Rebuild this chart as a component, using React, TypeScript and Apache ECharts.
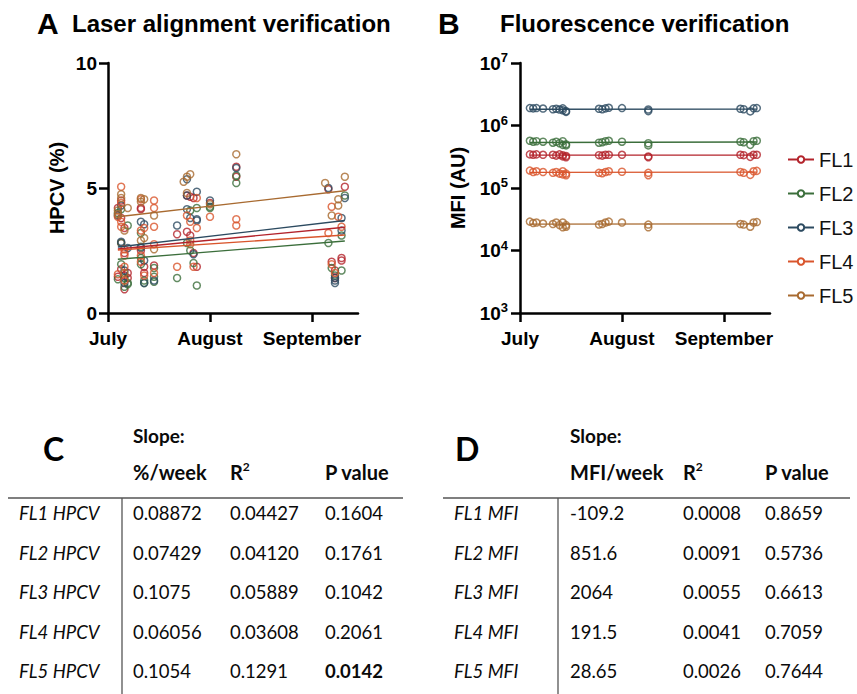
import React, { useEffect, useRef } from 'react';
import * as echarts from 'echarts';

const seriesNames = ['FL1', 'FL2', 'FL3', 'FL4', 'FL5'];
const seriesColors = ['#b3232b', '#3b6e3b', '#2c4a60', '#d9552c', '#a86a30'];

// x axis: days since July 1
const monthTicks = [0, 31, 62];
const monthLabels = ['July', 'August', 'September'];
const dayMax = 76;

// Panel A: HPCV (%)
const hpcvFL1 = [[3,4.2],[3,1.45],[4,4.5],[4,3.8],[4,2.8],[4,1.75],[5,3.4],[5,2.4],[5,1.5],[5,0.95],[6,1.6],[6,1.4],[10,4.2],[10,4.15],[10,2.5],[11,1.85],[11,1.6],[14,1.9],[21,3.15],[24,4.7],[24,3.25],[25,4.65],[25,3.1],[26,4.6],[26,2.4],[27,1.85],[31,4.4],[39,5.85],[39,5.45],[67,4.95],[68,2.05],[69,1.7],[69,1.4],[71,2.2],[71,2.1],[72,5.05]];
const hpcvFL2 = [[3,4.0],[3,1.35],[4,4.15],[4,2.8],[4,1.95],[5,1.4],[5,1.05],[6,3.5],[6,1.2],[6,1.15],[10,3.2],[10,2.65],[10,2.2],[10,1.95],[11,1.3],[11,1.2],[14,1.8],[14,1.45],[14,1.25],[21,1.4],[24,2.8],[25,4.1],[25,2.5],[26,2.0],[27,4.2],[27,1.1],[31,4.25],[31,4.2],[39,5.5],[39,5.2],[67,2.8],[68,1.8],[69,1.5],[71,3.1],[71,1.7],[72,4.7]];
const hpcvFL3 = [[3,3.9],[4,4.3],[4,2.85],[5,1.7],[5,1.2],[6,2.6],[10,3.65],[10,2.6],[11,3.55],[11,2.1],[11,1.2],[14,1.3],[21,3.5],[24,5.35],[24,4.7],[24,4.15],[25,3.8],[26,2.35],[27,4.85],[27,3.75],[27,3.7],[31,4.5],[39,5.8],[67,5.0],[69,1.4],[69,1.3],[69,1.2],[71,3.8],[71,3.3],[72,4.6]];
const hpcvFL4 = [[3,3.85],[3,1.55],[4,5.05],[4,4.4],[4,3.65],[4,3.45],[5,2.55],[5,2.3],[5,1.85],[5,1.3],[10,4.55],[10,3.3],[10,2.3],[10,2.05],[11,3.4],[11,1.5],[14,4.5],[14,4.2],[14,3.45],[14,2.75],[14,1.6],[21,1.85],[24,3.9],[25,3.65],[25,2.9],[26,1.85],[27,4.6],[27,3.4],[31,3.85],[39,3.75],[39,3.5],[67,3.2],[68,4.25],[68,1.95],[69,1.6],[70,3.85],[71,3.45]];
const hpcvFL5 = [[3,4.1],[3,3.95],[4,4.75],[4,4.6],[5,3.3],[5,1.6],[6,4.2],[10,4.6],[10,4.45],[10,2.9],[11,4.55],[11,3.0],[14,3.9],[14,2.55],[23,5.25],[24,5.45],[25,5.55],[24,4.8],[25,2.75],[31,4.35],[39,6.35],[66,5.2],[68,3.9],[70,4.55],[70,4.3],[72,5.45]];
const hpcvFitFL1 = [[3,2.56],[72,3.43]];
const hpcvFitFL2 = [[3,2.15],[72,2.88]];
const hpcvFitFL3 = [[3,2.64],[72,3.70]];
const hpcvFitFL4 = [[3,2.52],[72,3.12]];
const hpcvFitFL5 = [[3,3.85],[72,4.89]];

// Panel B: MFI (AU)
const mfiFL1 = [[3,3.45e5],[4,3.4e5],[5,3.45e5],[7,3.4e5],[10,3.4e5],[11,3.3e5],[12,3.45e5],[13,3.35e5],[13,3.2e5],[14,3.1e5],[14,3.25e5],[24,3.35e5],[25,3.3e5],[26,3.4e5],[27,3.4e5],[31,3.4e5],[39,3.2e5],[39,3.1e5],[67,3.4e5],[68,3.35e5],[70,3.15e5],[71,3.4e5],[72,3.4e5]];
const mfiFL2 = [[3,5.7e5],[4,5.5e5],[5,5.6e5],[7,5.5e5],[10,5.3e5],[11,5.5e5],[12,5.2e5],[13,5.6e5],[13,4.9e5],[14,5.0e5],[14,4.8e5],[24,5.3e5],[25,5.4e5],[26,5.6e5],[27,5.7e5],[31,5.5e5],[39,5.2e5],[39,4.8e5],[67,5.5e5],[68,5.4e5],[70,4.9e5],[71,5.6e5],[72,5.7e5]];
const mfiFL3 = [[3,1.9e6],[4,1.88e6],[5,1.9e6],[7,1.87e6],[10,1.82e6],[11,1.85e6],[12,1.8e6],[13,1.88e6],[13,1.75e6],[14,1.7e6],[14,1.65e6],[24,1.85e6],[25,1.82e6],[26,1.88e6],[27,1.92e6],[31,1.9e6],[39,1.8e6],[39,1.7e6],[67,1.85e6],[68,1.82e6],[70,1.68e6],[71,1.88e6],[72,1.9e6]];
const mfiFL4 = [[3,1.9e5],[4,1.8e5],[5,1.85e5],[7,1.8e5],[10,1.75e5],[11,1.8e5],[12,1.7e5],[13,1.85e5],[13,1.65e5],[14,1.6e5],[14,1.7e5],[24,1.75e5],[25,1.72e5],[26,1.8e5],[27,1.85e5],[31,1.82e5],[39,1.75e5],[39,1.6e5],[67,1.8e5],[68,1.75e5],[70,1.62e5],[71,1.85e5],[72,1.88e5]];
const mfiFL5 = [[3,2.9e4],[4,2.75e4],[5,2.8e4],[7,2.7e4],[10,2.65e4],[11,2.8e4],[12,2.55e4],[13,2.8e4],[13,2.35e4],[14,2.4e4],[14,2.55e4],[24,2.6e4],[25,2.65e4],[26,2.8e4],[27,2.9e4],[31,2.8e4],[39,2.6e4],[39,2.35e4],[67,2.65e4],[68,2.6e4],[70,2.4e4],[71,2.8e4],[72,2.85e4]];
const mfiFitFL1 = [[3,3.35e5],[72,3.35e5]];
const mfiFitFL2 = [[3,5.35e5],[72,5.45e5]];
const mfiFitFL3 = [[3,1.82e6],[72,1.83e6]];
const mfiFitFL4 = [[3,1.78e5],[72,1.79e5]];
const mfiFitFL5 = [[3,2.65e4],[72,2.66e4]];

// Table C
const tableCRows = ['FL1 HPCV', 'FL2 HPCV', 'FL3 HPCV', 'FL4 HPCV', 'FL5 HPCV'];
const tableCSlope = ['0.08872', '0.07429', '0.1075', '0.06056', '0.1054'];
const tableCR2 = ['0.04427', '0.04120', '0.05889', '0.03608', '0.1291'];
const tableCP = ['0.1604', '0.1761', '0.1042', '0.2061', '0.0142'];
// Table D
const tableDRows = ['FL1 MFI', 'FL2 MFI', 'FL3 MFI', 'FL4 MFI', 'FL5 MFI'];
const tableDSlope = ['-109.2', '851.6', '2064', '191.5', '28.65'];
const tableDR2 = ['0.0008', '0.0091', '0.0055', '0.0041', '0.0026'];
const tableDP = ['0.8659', '0.5736', '0.6613', '0.7059', '0.7644'];

const hpcvPoints = [hpcvFL1, hpcvFL2, hpcvFL3, hpcvFL4, hpcvFL5];
const hpcvFits = [hpcvFitFL1, hpcvFitFL2, hpcvFitFL3, hpcvFitFL4, hpcvFitFL5];
const mfiPoints = [mfiFL1, mfiFL2, mfiFL3, mfiFL4, mfiFL5];
const mfiFits = [mfiFitFL1, mfiFitFL2, mfiFitFL3, mfiFitFL4, mfiFitFL5];

const AX = 'Liberation Sans, Arial, sans-serif';
const TB = 'Lato, Open Sans, sans-serif';

function buildTable(ox: number, labelX: number, colX: number[], vLineX: number, hLine: [number, number], letter: string, head1: string, rows: string[], c1: string[], c2: string[], c3: string[], boldP: number) {
  const els: any[] = [];
  const rowY0 = 513;
  const rowStep = 39.5;
  const ink = '#0a0a0a';
  els.push({ type: 'text', x: ox, y: 448, style: { text: letter, font: `bold 32px ${TB}`, fill: '#000', verticalAlign: 'middle' } });
  els.push({ type: 'text', x: colX[0], y: 435, style: { text: 'Slope:', font: `bold 19px ${TB}`, fill: ink, verticalAlign: 'middle' } });
  els.push({ type: 'text', x: colX[0], y: 472, style: { text: head1, font: `bold 20px ${TB}`, fill: ink, verticalAlign: 'middle' } });
  els.push({ type: 'text', x: colX[1], y: 472, style: { text: '{r|R}{s|2}', verticalAlign: 'middle', rich: { r: { font: `bold 20px ${TB}`, fill: ink, lineHeight: 24 }, s: { font: `bold 12px ${TB}`, fill: ink, verticalAlign: 'top', lineHeight: 24 } } } });
  els.push({ type: 'text', x: colX[2], y: 472, style: { text: 'P value', font: `bold 20px ${TB}`, fill: ink, verticalAlign: 'middle' } });
  els.push({ type: 'line', shape: { x1: hLine[0], y1: 498, x2: hLine[1], y2: 498 }, style: { stroke: '#555', lineWidth: 1.3 } });
  els.push({ type: 'line', shape: { x1: vLineX, y1: 498, x2: vLineX, y2: 694 }, style: { stroke: '#555', lineWidth: 1.3 } });
  rows.forEach((r, i) => {
    const y = rowY0 + i * rowStep;
    els.push({ type: 'text', x: labelX, y, style: { text: r, font: `italic 18.5px ${TB}`, fill: ink, verticalAlign: 'middle' } });
    els.push({ type: 'text', x: colX[0], y, style: { text: c1[i], font: `18.5px ${TB}`, fill: ink, verticalAlign: 'middle' } });
    els.push({ type: 'text', x: colX[1], y, style: { text: c2[i], font: `18.5px ${TB}`, fill: ink, verticalAlign: 'middle' } });
    els.push({ type: 'text', x: colX[2], y, style: { text: c3[i], font: `${i === boldP ? 'bold ' : ''}18.5px ${TB}`, fill: ink, verticalAlign: 'middle' } });
  });
  return els;
}

export default function App() {
  const ref = useRef<HTMLDivElement>(null);
  useEffect(() => {
    document.body.style.margin = '0';
    const chart = echarts.init(ref.current!, undefined, { renderer: 'svg' });
    const axisLine = { show: true, onZero: false, lineStyle: { color: '#000', width: 2.5 } };
    const axisTick = { show: true, length: 9, lineStyle: { color: '#000', width: 2.5 } };
    const xAxisCommon = (gi: number) => ({
      type: 'value', gridIndex: gi, min: 0, max: dayMax,
      axisLine, splitLine: { show: false },
      axisTick: { ...axisTick, customValues: monthTicks },
      axisLabel: {
        customValues: monthTicks, margin: 16, color: '#000', fontFamily: AX, fontWeight: 'bold', fontSize: 19,
        formatter: (v: number) => monthLabels[monthTicks.indexOf(Math.round(v))] ?? '',
      },
    });
    const series: any[] = [];
    seriesNames.forEach((n, i) => {
      series.push({
        name: n, type: 'line', xAxisIndex: 1, yAxisIndex: 1, data: mfiFits[i], showSymbol: false,
        symbol: 'circle', symbolSize: 7, lineStyle: { color: seriesColors[i], width: 1.3 },
        itemStyle: { color: '#fff', borderColor: seriesColors[i], borderWidth: 1.5 }, z: 2, silent: true,
      });
    });
    seriesNames.forEach((n, i) => {
      series.push({
        name: n, type: 'line', xAxisIndex: 0, yAxisIndex: 0, data: hpcvFits[i], showSymbol: false,
        symbol: 'circle', lineStyle: { color: seriesColors[i], width: 1.3 },
        itemStyle: { color: '#fff', borderColor: seriesColors[i], borderWidth: 1.5 }, z: 4, silent: true,
      });
      series.push({
        name: n, type: 'scatter', xAxisIndex: 0, yAxisIndex: 0, data: hpcvPoints[i], symbol: 'circle', symbolSize: 7,
        itemStyle: { color: 'rgba(255,255,255,0)', borderColor: seriesColors[i], borderWidth: 1.5 }, z: 3, silent: true,
      });
      series.push({
        name: n, type: 'scatter', xAxisIndex: 1, yAxisIndex: 1, data: mfiPoints[i], symbol: 'circle', symbolSize: 7,
        itemStyle: { color: 'rgba(255,255,255,0)', borderColor: seriesColors[i], borderWidth: 1.5 }, z: 3, silent: true,
      });
    });

    const graphic: any[] = [
      { type: 'text', x: 37, y: 23, style: { text: 'A', font: `bold 30px ${AX}`, fill: '#000', verticalAlign: 'middle' } },
      { type: 'text', x: 72, y: 23, style: { text: 'Laser alignment verification', font: `bold 24px ${AX}`, fill: '#000', verticalAlign: 'middle' } },
      { type: 'text', x: 438, y: 23, style: { text: 'B', font: `bold 30px ${AX}`, fill: '#000', verticalAlign: 'middle' } },
      { type: 'text', x: 500, y: 23, style: { text: 'Fluorescence verification', font: `bold 24px ${AX}`, fill: '#000', verticalAlign: 'middle' } },
      { type: 'text', x: 57, y: 188, rotation: Math.PI / 2, style: { text: 'HPCV (%)', font: `bold 20px ${AX}`, fill: '#000', align: 'center', verticalAlign: 'middle' } },
      ...buildTable(43, 19, [133, 230, 325], 122, [8, 403], 'C', '%/week', tableCRows, tableCSlope, tableCR2, tableCP, 4),
      ...buildTable(455, 454, [570, 683, 765], 558, [443, 850], 'D', 'MFI/week', tableDRows, tableDSlope, tableDR2, tableDP, -1),
    ];

    chart.setOption({
      animation: false,
      backgroundColor: '#fff',
      grid: [
        { left: 108, top: 63, width: 250, height: 250 },
        { left: 520, top: 63, width: 250, height: 250 },
      ],
      xAxis: [xAxisCommon(0), xAxisCommon(1)],
      yAxis: [
        {
          type: 'value', gridIndex: 0, min: 0, max: 10, interval: 5, axisLine, axisTick, splitLine: { show: false },
          axisLabel: { margin: 11, color: '#000', fontFamily: AX, fontWeight: 'bold', fontSize: 19 },
        },
        {
          type: 'log', logBase: 10, gridIndex: 1, min: 1000, max: 1e7, axisLine, axisTick, splitLine: { show: false },
          minorTick: { show: false },
          axisLabel: {
            margin: 12, formatter: (v: number) => `{b|10}{s|${Math.round(Math.log10(v))}}`,
            rich: {
              b: { color: '#000', fontFamily: AX, fontWeight: 'bold', fontSize: 19, lineHeight: 24 },
              s: { color: '#000', fontFamily: AX, fontWeight: 'bold', fontSize: 13, verticalAlign: 'top', lineHeight: 24 },
            },
          },
          name: 'MFI (AU)', nameLocation: 'middle', nameGap: 52, nameMoveOverlap: false,
          nameTextStyle: { color: '#000', fontFamily: AX, fontWeight: 'bold', fontSize: 20 },
        },
      ],
      legend: {
        data: seriesNames, orient: 'vertical', left: 782, top: 144, itemWidth: 26, itemHeight: 8, itemGap: 13,
        textStyle: { fontSize: 20, color: '#111', fontFamily: AX, lineHeight: 21 },
        selectedMode: false,
      },
      graphic,
      series,
    });
    return () => chart.dispose();
  }, []);
  return <div ref={ref} style={{ width: 857, height: 694 }} />;
}
